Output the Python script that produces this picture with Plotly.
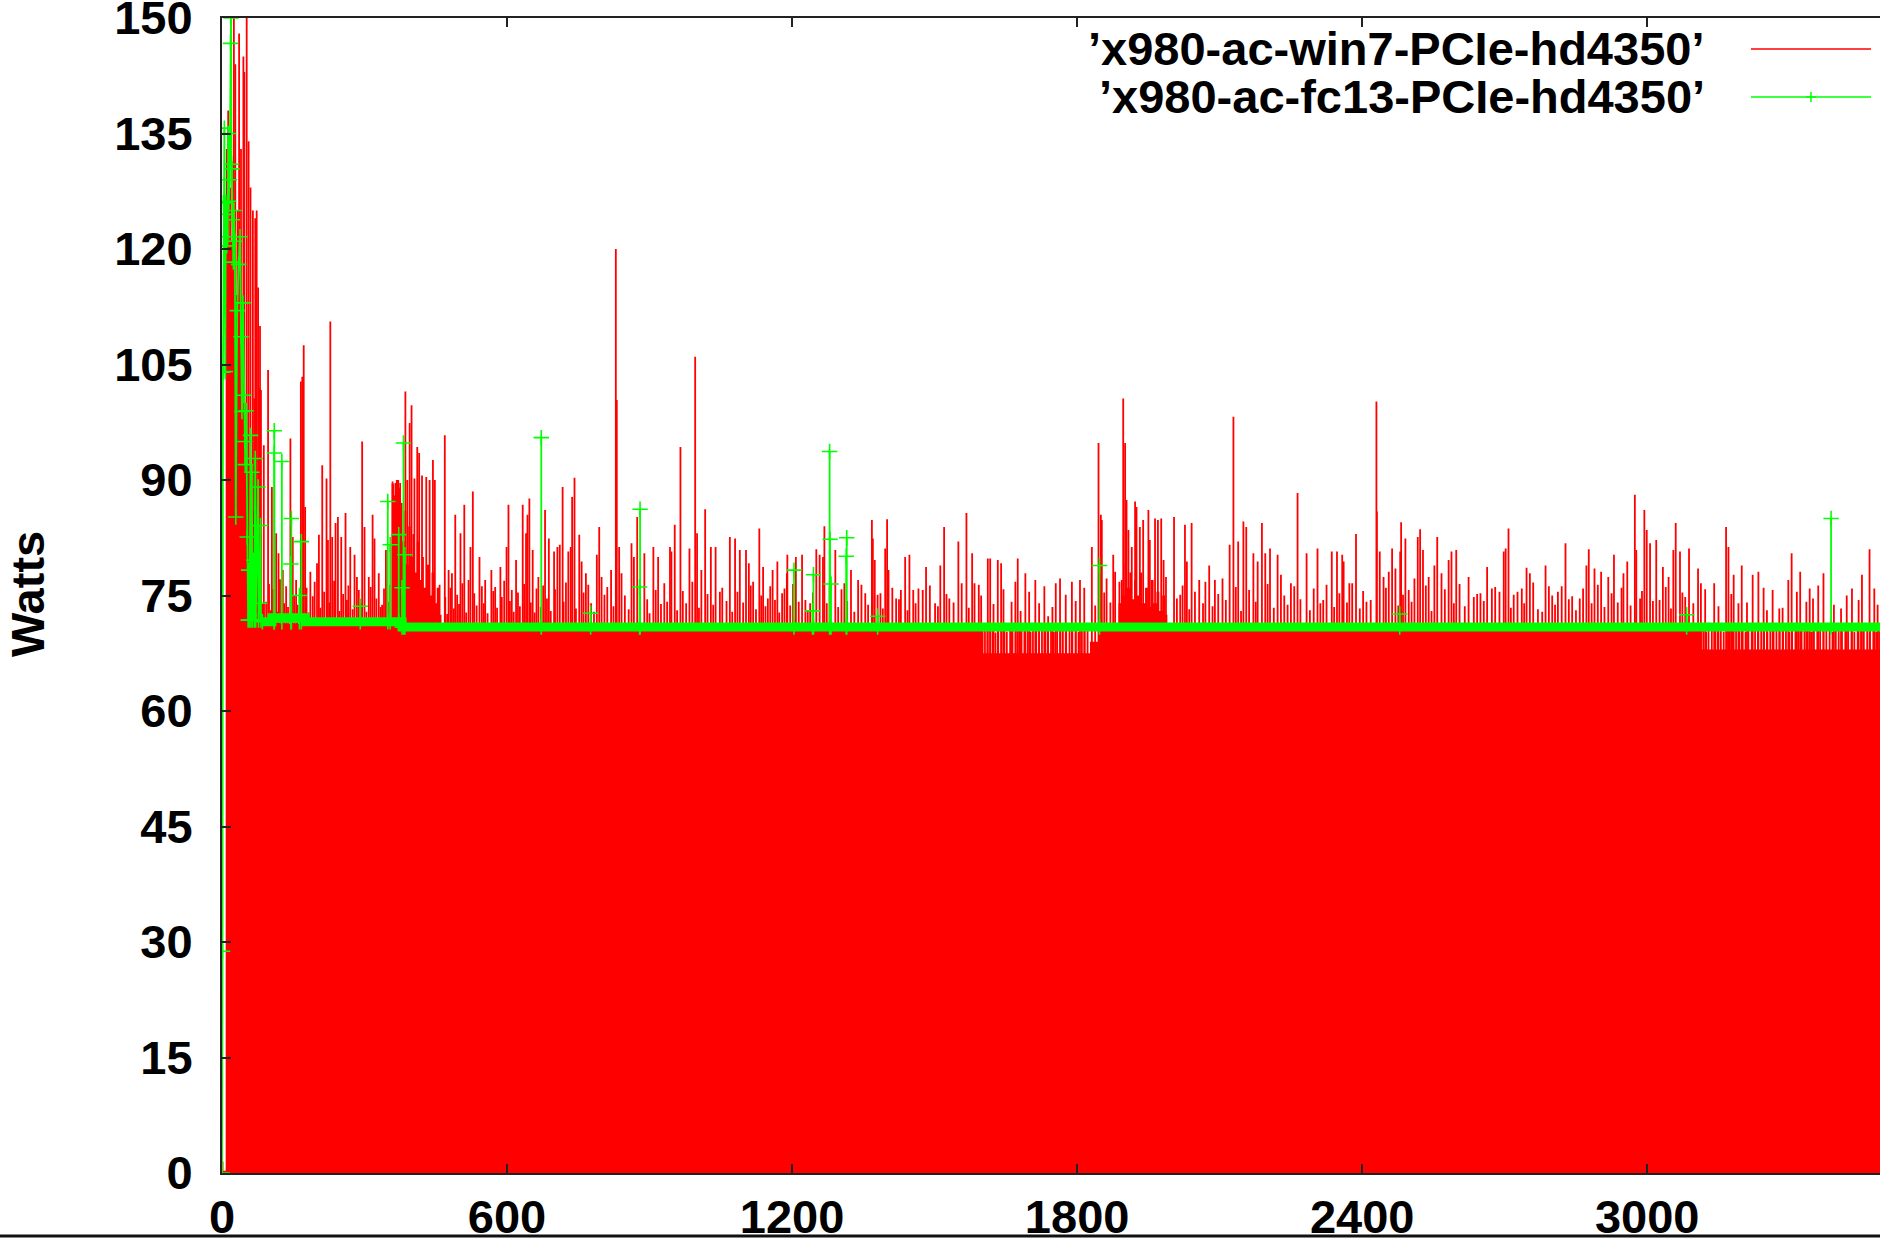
import plotly.graph_objects as go

# ---------------- data ----------------
x_ticks = [0, 600, 1200, 1800, 2400, 3000]
y_ticks = [0, 15, 30, 45, 60, 75, 90, 105, 120, 135, 150]

series_names = ["\u2019x980-ac-win7-PCIe-hd4350\u2019", "\u2019x980-ac-fc13-PCIe-hd4350\u2019"]

# win7: dense impulses -> solid lower envelope (step levels) ...
win7_base_x = [0, 3, 8, 30, 40, 50, 60, 70, 80, 90,
               357, 362, 366, 371, 376, 380, 384, 388, 392, 397, 401, 406, 410, 415, 420, 425, 430,
               436, 441, 447, 452, 458, 462,
               1603, 1827, 1845,
               1887, 1892, 1896, 1900, 1905, 1910, 1915, 1920, 1926, 1932, 1937, 1943, 1949, 1955,
               1961, 1967, 1973, 1979, 1985, 1990,
               3115, 3490]
win7_base_y = [1.5, 0.3, 121, 114, 100, 92, 86, 80, 74, 71.3,
               89.5, 88, 90, 89, 87, 82, 86, 79, 84, 80, 83, 78, 82, 77, 80, 76, 79,
               75, 78, 74, 76, 72.5, 70.5,
               67.5, 69, 70.5,
               74, 77, 75, 79, 76, 78, 74.5, 77, 75, 78, 74, 76, 73.5, 77,
               74, 75.5, 73, 75, 72.5, 70.5,
               68, 68]

# ... plus the individual impulses that rise above it
win7_spike_x = [10, 13, 17, 22, 25, 28, 33, 36, 40, 45, 47, 52, 56, 60, 65, 70, 73, 76, 80,
                68, 79, 82, 88, 97, 105, 114, 119, 128, 144, 149, 156, 166, 169, 172, 175, 186, 200,
                204, 211, 220, 223, 228, 232, 239, 244, 251, 260, 270, 279, 284, 295, 300, 309, 317,
                321, 330, 337, 345, 359, 365, 371, 375, 386, 390, 395, 399, 405, 411, 415, 421, 430,
                437, 444, 448, 458, 469, 477, 484, 491, 502, 510, 519, 523, 528, 542, 554, 567, 575, 586,
                589, 599, 603, 610, 619, 633, 640, 643, 647, 654, 666, 680, 688, 699, 706, 711, 717,
                729, 734, 737, 742, 752, 757, 766, 771, 789, 794, 799, 805, 819, 829, 831, 836, 841,
                862, 867, 874, 889, 908, 918, 943, 946, 953, 965, 984, 996, 1000, 1009, 1017, 1029,
                1039, 1048, 1069, 1080, 1090, 1103, 1109, 1118, 1131, 1139, 1149, 1159, 1169,
                1179, 1189, 1190, 1208, 1221, 1228, 1238, 1251, 1258, 1265, 1268, 1291, 1310, 1324,
                1339, 1354, 1368, 1370, 1374, 1386, 1396, 1400, 1403, 1419, 1429, 1438, 1447, 1466,
                1475, 1482, 1501, 1512, 1520, 1531, 1550, 1567, 1579, 1584, 1593, 1612, 1617, 1633,
                1640, 1670, 1675, 1691, 1712, 1739, 1755,
                1764, 1789, 1806, 1831, 1845, 1850, 1852, 1862, 1876, 1880, 1889, 1897, 1901, 1904,
                1908, 1915, 1922, 1925, 1932, 1939, 1950, 1953, 1964, 1970, 1977, 1982, 1987, 2004,
                2017, 2027, 2031, 2041, 2057, 2078, 2090, 2106, 2121, 2129, 2139, 2150, 2156, 2171,
                2180, 2189, 2196, 2206, 2222, 2229, 2250, 2264, 2283, 2306, 2318, 2336, 2347,
                2358, 2361, 2379, 2387, 2409, 2430, 2431, 2437, 2445, 2456, 2463, 2470, 2480, 2482,
                2491, 2498, 2510, 2517, 2522, 2528, 2540, 2552, 2558, 2567, 2582, 2588, 2598, 2624,
                2635, 2649, 2663, 2673, 2689, 2698, 2702, 2708, 2719, 2736, 2746, 2753, 2779, 2786,
                2793, 2812, 2828, 2842, 2858, 2872, 2877, 2889, 2903, 2918, 2930,
                2950, 2958, 2974, 2977, 2985, 2994, 2999, 3006, 3019, 3026, 3033, 3045, 3055, 3060,
                3069, 3080, 3088, 3107, 3113, 3141, 3166, 3171, 3182, 3192, 3199, 3222, 3234, 3252,
                3264, 3278, 3297, 3304, 3322, 3342, 3349, 3371, 3408, 3431, 3452, 3468, 3485]
win7_spike_y = [133, 138, 128, 131, 150, 144, 125, 148, 133, 145, 143, 150, 134, 128, 125, 124, 125, 115, 110,
                100.6, 101.9, 101.7, 94.5, 104.3, 89.1, 83.1, 80.5, 78.3, 95.4, 82.6, 77.0, 102.8, 103.4, 107.5, 86.5, 78.1, 79.2,
                82.9, 91.9, 90.2, 82.2, 110.6, 82.6, 84.4, 85.2, 82.6, 85.7, 81.3, 80.3, 77.4, 95.0, 83.9, 77.4, 85.5,
                82.4, 77.9, 73.8, 80.9, 89.8, 89.6, 90.0, 89.6, 101.5, 90.0, 97.4, 99.7, 90.2, 94.3, 93.5, 90.6, 90.4,
                90.0, 92.6, 90.0, 76.4, 95.8, 78.3, 77.9, 85.5, 83.1, 86.8, 77.0, 81.3, 88.5, 80.0, 77.0, 78.3, 76.1, 78.7,
                74.8, 81.3, 86.8, 75.7, 79.6, 86.8, 83.1, 85.5, 87.6, 80.9, 77.4, 86.1, 82.4, 80.7, 81.3, 81.6, 89.1,
                80.7, 81.3, 87.8, 90.3, 82.9, 79.4, 77.9, 76.4, 80.3, 83.9, 77.4, 75.1, 78.3, 120.0, 100.4, 81.3, 77.9,
                81.8, 80.0, 85.2, 80.5, 81.3, 80.0, 81.3, 80.7, 84.2, 94.3, 81.1, 106.0, 83.1, 78.3, 86.2, 81.3,
                81.3, 75.5, 82.6, 82.4, 80.9, 80.9, 79.2, 76.8, 83.7, 78.7, 74.6, 78.3, 79.4,
                75.3, 77.9, 80.3, 80.0, 80.3, 74.4, 74.0, 81.0, 80.3, 80.0, 84.0, 80.9, 76.6, 78.3,
                77.0, 75.3, 84.8, 82.4, 79.6, 75.3, 81.1, 84.9, 78.3, 74.6, 75.7, 80.0, 80.3, 75.9,
                75.7, 78.7, 74.0, 78.9, 83.9, 74.6, 82.0, 85.7, 80.5, 76.6, 76.4, 79.8, 79.8, 79.6,
                79.2, 76.8, 79.8, 77.9, 77.0, 72.3, 76.6,
                77.2, 76.8, 77.0, 81.3, 94.8, 85.5, 84.8, 77.2, 80.3, 78.1, 76.8, 100.6, 94.8, 87.4,
                83.5, 81.3, 87.2, 86.5, 83.9, 84.8, 86.1, 82.2, 85.0, 84.8, 85.0, 79.6, 77.4, 85.2,
                75.1, 84.2, 79.4, 84.4, 77.0, 78.9, 77.0, 77.2, 81.6, 98.2, 82.0, 84.6, 83.9, 80.5,
                79.4, 84.4, 80.5, 81.1, 80.3, 77.7, 76.6, 88.3, 80.5, 81.1, 74.4, 80.7, 80.7,
                80.3, 79.4, 76.6, 83.0, 74.2, 100.2, 85.9, 80.7, 77.4, 78.1, 81.1, 78.5, 80.7, 84.5,
                82.4, 75.7, 77.2, 82.6, 83.6, 80.9, 77.4, 78.9, 82.6, 77.9, 79.6, 80.7, 80.9, 77.4,
                74.8, 75.3, 78.7, 75.9, 75.5, 80.7, 81.1, 83.7, 75.1, 75.9, 78.6, 77.9, 72.9, 78.9,
                76.2, 75.5, 81.8, 74.9, 74.6, 78.9, 81.0, 78.5, 78.1, 77.4, 80.3,
                77.9, 79.4, 88.1, 80.9, 74.6, 86.1, 83.5, 81.8, 82.2, 74.4, 78.7, 77.4, 80.9, 84.4,
                80.7, 74.8, 81.1, 78.5, 76.6, 76.6, 83.9, 81.3, 77.7, 74.0, 78.9, 77.7, 78.1, 73.1,
                75.7, 73.3, 77.0, 80.5, 78.1, 75.9, 74.6, 77.9, 73.3, 75.9, 77.7, 81.0, 73.8]

# smaller win7 impulses (72-77 W) that thicken the band just above the steady level
win7_small = [(93, 74.2), (99, 76.5), (103, 73.1), (108, 75.8), (117, 72.9), (122, 77.1), (131, 74.0),
              (135, 76.2), (139, 73.5), (152, 75.0), (159, 73.8), (178, 76.0), (182, 72.8), (191, 74.9),
              (195, 76.8), (207, 73.4), (215, 75.5), (226, 74.1), (236, 76.9), (247, 73.0), (255, 75.2),
              (263, 74.4), (266, 76.3), (275, 73.2), (288, 75.7), (292, 74.0), (304, 72.9), (313, 76.1),
              (325, 74.6), (334, 73.5), (341, 75.9), (350, 74.2), (354, 76.4),
              (470, 74.8), (474, 72.6), (481, 76.0), (488, 73.3), (495, 75.1), (499, 73.9), (506, 76.6),
              (514, 72.8), (531, 75.3), (536, 73.7), (547, 76.2), (551, 74.0), (559, 72.7), (571, 75.6),
              (579, 73.4), (594, 76.9), (606, 74.3), (614, 72.9), (623, 75.4), (627, 73.6), (636, 76.5),
              (650, 74.1), (658, 72.8), (662, 75.9), (671, 73.5), (676, 76.3), (684, 74.6), (692, 73.0),
              (701, 75.8), (719, 74.2), (724, 76.7), (745, 73.3), (761, 75.4), (777, 74.0), (783, 72.9),
              (811, 76.1), (824, 73.6), (848, 75.0), (856, 73.2), (880, 76.4), (895, 74.5), (900, 72.7),
              (913, 75.7), (924, 73.9), (931, 76.6), (937, 74.2), (958, 73.1), (970, 75.6), (977, 74.0),
              (990, 76.8), (1004, 73.4), (1022, 75.2), (1034, 73.8), (1053, 76.0), (1062, 74.3),
              (1074, 72.9), (1085, 75.5), (1097, 74.1), (1113, 76.3), (1124, 73.2), (1135, 75.0),
              (1144, 73.6), (1154, 76.2), (1164, 74.4), (1173, 72.8), (1184, 75.9), (1196, 73.7),
              (1202, 76.5), (1214, 74.2), (1233, 73.0), (1244, 75.4), (1273, 74.0), (1279, 76.1),
              (1297, 73.5), (1304, 75.8), (1316, 74.3), (1331, 72.9), (1346, 76.4), (1360, 73.8),
              (1380, 75.1), (1391, 73.3), (1411, 76.0), (1425, 74.5), (1443, 73.1), (1455, 75.7),
              (1460, 74.0), (1490, 76.3), (1507, 73.6), (1525, 75.2), (1540, 74.1), (1557, 76.6),
              (1572, 73.4), (1598, 75.0), (1624, 73.9), (1645, 75.8), (1662, 74.2), (1681, 73.0),
              (1699, 75.5), (1720, 74.0), (1731, 76.2), (1748, 73.5), (1776, 75.1), (1797, 74.3),
              (1815, 76.0), (1838, 73.7), (1857, 75.4), (1870, 74.1),
              (2010, 74.6), (2022, 76.3), (2036, 73.2), (2048, 75.5), (2065, 74.0), (2070, 76.8),
              (2085, 73.6), (2097, 75.2), (2113, 74.4), (2134, 76.1), (2145, 73.0), (2162, 75.7),
              (2176, 74.2), (2201, 76.5), (2214, 73.4), (2236, 75.0), (2243, 73.8), (2257, 76.2),
              (2270, 74.5), (2290, 73.1), (2298, 75.9), (2312, 74.0), (2325, 76.4), (2341, 73.5),
              (2352, 75.3), (2368, 74.1), (2373, 76.6), (2395, 73.3), (2402, 75.6), (2418, 74.4),
              (2450, 76.0), (2476, 73.7), (2486, 75.1), (2504, 74.2), (2534, 76.3), (2546, 73.0),
              (2574, 75.8), (2593, 74.0), (2605, 76.5), (2616, 73.6), (2642, 75.2), (2656, 74.3),
              (2680, 76.1), (2713, 73.4), (2727, 75.5), (2741, 74.0), (2760, 76.7), (2770, 73.2),
              (2800, 75.0), (2806, 73.8), (2820, 76.2), (2835, 74.5), (2850, 73.1), (2865, 75.9),
              (2883, 74.0), (2896, 76.4), (2910, 73.5), (2925, 75.3), (2938, 74.1), (2946, 76.0),
              (2965, 73.7), (2989, 75.6), (3012, 74.3), (3039, 76.1), (3050, 73.3), (3074, 75.4),
              (3097, 74.0), (3122, 75.8), (3150, 73.6), (3177, 75.2), (3210, 74.1), (3245, 76.0),
              (3285, 73.4), (3315, 75.5), (3335, 74.2), (3360, 76.3), (3393, 73.8), (3420, 75.0),
              (3445, 74.4), (3478, 75.9)]

# win7 samples at the normal level inside the stretches where the series drops to ~68 W
win7_minor_x = [1606, 1611, 1617, 1622, 1628, 1634, 1641, 1647, 1652, 1659, 1664, 1671, 1678, 1683,
                1689, 1696, 1702, 1707, 1714, 1720, 1726, 1733, 1738, 1745, 1751, 1758, 1765, 1770,
                1777, 1784, 1790, 1797, 1803, 1810, 1816, 1822,
                3118, 3124, 3129, 3136, 3143, 3148, 3155, 3161, 3168, 3174, 3180, 3187, 3194, 3201,
                3207, 3213, 3220, 3227, 3233, 3240, 3246, 3253, 3259, 3266, 3272, 3279, 3286, 3292,
                3299, 3305, 3312, 3318, 3325, 3331, 3338, 3345, 3351, 3358, 3364, 3371, 3377, 3384,
                3390, 3397, 3403, 3410, 3417, 3423, 3430, 3436, 3443, 3450, 3456, 3463, 3469, 3476,
                3482, 3488]
win7_minor_y = [70.6, 70.4, 70.8, 70.5, 70.2, 70.7, 70.5, 70.9, 70.3, 70.6, 70.5, 70.8, 70.4, 70.6,
                70.5, 70.7, 70.3, 70.6, 70.5, 70.8, 70.4, 70.6, 70.5, 70.7, 70.3, 70.6, 70.5, 70.8,
                70.4, 70.6, 70.5, 70.7, 70.3, 70.6, 70.5, 70.8,
                70.5, 70.3, 70.7, 70.4, 70.6, 70.5, 70.8, 70.3, 70.6, 70.5, 70.4, 70.7, 70.5, 70.6,
                70.3, 70.8, 70.5, 70.4, 70.6, 70.5, 70.7, 70.3, 70.6, 70.5, 70.4, 70.8, 70.5, 70.6,
                70.3, 70.7, 70.5, 70.4, 70.6, 70.5, 70.8, 70.3, 70.6, 70.5, 70.4, 70.7, 70.5, 70.6,
                70.3, 70.8, 70.5, 70.4, 70.6, 70.5, 70.7, 70.3, 70.6, 70.5, 70.4, 70.8, 70.5, 70.6,
                70.3, 70.7]

# fc13: start-up points, then the steady level and its isolated spikes
fc13_start_x = [0, 1, 2, 3, 5, 7, 8, 9, 10, 12, 13, 14, 16, 18, 19, 20, 21, 22, 24, 25, 27, 29, 32,
                35, 38, 40, 42, 44, 46, 48, 49, 51, 53, 55, 56, 58, 60, 61, 63, 64, 67, 68, 70, 71,
                76, 77, 79, 81, 82, 85]
fc13_start_y = [0, 28.8, 104, 126, 135.7, 104.1, 126, 124.5, 120.4, 121.6, 135, 126.2, 129, 146.7,
                150, 131, 130.4, 123.8, 118.3, 125, 121, 85.2, 112, 118, 121.6, 108.6, 98.9, 113, 101,
                95, 92, 99, 82.6, 71.8, 78.3, 71.8, 95.8, 71.8, 91, 71.8, 79.6, 71.8, 92.8, 71.8,
                89.1, 71.8, 74, 84.1, 71.8, 71.6]

fc13_level_x = [85, 105, 175, 379, 3490]
fc13_level_y = [71.6, 72.1, 71.6, 70.9, 70.8]

fc13_spike_x = [110, 110, 126, 146, 145, 163, 167, 291, 349, 354, 372, 382, 385, 379, 672, 776,
                880, 879, 1204, 1245, 1243, 1279, 1280, 1282, 1315, 1314, 1380, 1847, 2479, 3083, 3387]
fc13_spike_y = [96.4, 93.5, 92.4, 85.0, 79.1, 75.0, 82.0, 73.6, 87.2, 81.6, 82.9, 94.8, 80.3, 76.0,
                95.5, 72.7, 86.2, 76.1, 78.3, 77.7, 73.0, 93.7, 82.3, 76.5, 82.5, 80.1, 72.3, 78.9,
                72.6, 72.5, 85.0]

# ---------------- figure ----------------
RED = "#ff0000"
GREEN = "#00ff00"
FONT = "Liberation Sans, Arial, Helvetica, sans-serif"
W, H = 1880, 1242
L, R, T, B = 222, 0, 18, 69
PW, PH = W - L - R, H - T - B


def px_x(px):
    return (px - L) / PW


def px_y(py):
    return (H - B - py) / PH


fig = go.Figure()

# red solid envelope
fig.add_trace(go.Scatter(x=win7_base_x, y=win7_base_y, mode="lines", line=dict(width=0, shape="hv", color=RED),
                         fill="tozeroy", fillcolor=RED, showlegend=False, hoverinfo="skip"))

# red impulses
small_x = [p[0] for p in win7_small]
small_y = [p[1] for p in win7_small]
ix, iy = [], []
for xs, ys in ((win7_spike_x, win7_spike_y), (small_x, small_y), (win7_minor_x, win7_minor_y)):
    for xv, yv in zip(xs, ys):
        ix += [xv, xv, None]
        iy += [0, yv, None]
fig.add_trace(go.Scatter(x=ix, y=iy, mode="lines", line=dict(width=1.8, color=RED),
                         name=series_names[0], showlegend=False))

# green steady level (dense points -> thick band)
fig.add_trace(go.Scatter(x=fc13_level_x, y=fc13_level_y, mode="lines",
                         line=dict(width=9, color=GREEN, shape="hv"), showlegend=False, hoverinfo="skip"))

marker = dict(symbol="cross-thin", size=11, color=GREEN, line=dict(width=1.6, color=GREEN))
# green start-up section
fig.add_trace(go.Scatter(x=fc13_start_x, y=fc13_start_y, mode="lines+markers",
                         line=dict(width=1.8, color=GREEN), marker=marker,
                         name=series_names[1], showlegend=False))
# green spikes
gx, gy = [], []
for xv, yv in zip(fc13_spike_x, fc13_spike_y):
    base = 71.6 if xv < 379 else 70.9
    gx += [xv, xv, None]
    gy += [base, yv, None]
fig.add_trace(go.Scatter(x=gx, y=gy, mode="lines+markers", line=dict(width=1.8, color=GREEN),
                         marker=marker, showlegend=False))

tickfont = dict(family=FONT, size=47, color="black", weight="bold")

fig.update_xaxes(range=[0, 3490], tickvals=x_ticks, ticktext=[str(v) for v in x_ticks],
                 ticks="inside", ticklen=9, tickwidth=1.5, tickcolor="#222",
                 showline=True, linecolor="#222", linewidth=2, mirror="ticks",
                 showgrid=False, zeroline=False, tickfont=tickfont, ticklabelstandoff=2,
                 ticklabeloverflow="allow", automargin=False)
fig.update_yaxes(range=[0, 150], tickvals=y_ticks, ticktext=[str(v) for v in y_ticks],
                 ticks="inside", ticklen=9, tickwidth=1.5, tickcolor="#222",
                 showline=True, linecolor="#222", linewidth=2, mirror=False,
                 showgrid=False, zeroline=False, tickfont=tickfont, ticklabelstandoff=18,
                 ticklabeloverflow="allow", automargin=False)

annotations = [
    dict(text="Watts", textangle=-90, x=px_x(27), y=px_y(594), xref="paper", yref="paper",
         showarrow=False, xanchor="center", yanchor="middle",
         font=dict(family=FONT, size=47, color="black", weight="bold")),
    dict(text=series_names[0], x=px_x(1706), y=px_y(48), xref="paper", yref="paper",
         showarrow=False, xanchor="right", yanchor="middle", borderpad=0,
         font=dict(family=FONT, size=47, color="black", weight="bold")),
    dict(text=series_names[1], x=px_x(1706), y=px_y(96), xref="paper", yref="paper",
         showarrow=False, xanchor="right", yanchor="middle", borderpad=0,
         font=dict(family=FONT, size=47, color="black", weight="bold")),
]

shapes = [
    # legend samples
    dict(type="line", xref="paper", yref="paper", x0=px_x(1751), x1=px_x(1871), y0=px_y(49), y1=px_y(49),
         line=dict(color=RED, width=1.5)),
    dict(type="line", xref="paper", yref="paper", x0=px_x(1751), x1=px_x(1871), y0=px_y(97), y1=px_y(97),
         line=dict(color=GREEN, width=1.5)),
    dict(type="line", xref="paper", yref="paper", x0=px_x(1806), x1=px_x(1816), y0=px_y(97), y1=px_y(97),
         line=dict(color=GREEN, width=1.5)),
    dict(type="line", xref="paper", yref="paper", x0=px_x(1811), x1=px_x(1811), y0=px_y(92), y1=px_y(102),
         line=dict(color=GREEN, width=1.5)),
    # cropped frame line at the bottom of the image
    dict(type="line", xref="paper", yref="paper", x0=px_x(0), x1=px_x(1880), y0=px_y(1236), y1=px_y(1236),
         line=dict(color="#111", width=3), layer="above"),
]

fig.update_layout(width=W, height=H, margin=dict(l=L, r=R, t=T, b=B, pad=0, autoexpand=False),
                  paper_bgcolor="white", plot_bgcolor="white",
                  annotations=annotations, shapes=shapes, showlegend=False,
                  font=dict(family=FONT, color="black"))

fig.write_html("out.html")
